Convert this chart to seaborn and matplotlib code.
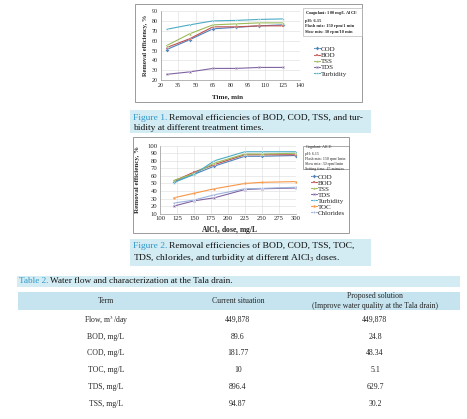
import numpy as np
import pandas as pd
import seaborn as sns
import matplotlib
matplotlib.use("Agg")
import matplotlib.pyplot as plt
from matplotlib.patches import Rectangle

# ---------------- data ----------------
fig1_time = [25, 45, 65, 85, 105, 125]
fig1_cod = [51, 61, 72, 73.5, 75, 76]
fig1_bod = [53, 62, 74, 74, 75, 75]
fig1_tss = [55, 67, 76, 77, 78, 78]
fig1_tds = [26, 28.5, 32, 32, 33, 33]
fig1_turb = [71.5, 76, 80, 80.5, 81.5, 82]

fig2_dose = [120, 150, 180, 225, 250, 300]
fig2_cod = [52, 62, 73, 86, 86, 87]
fig2_bod = [53, 65, 75, 88, 88, 88]
fig2_tss = [54, 63, 77, 89, 89, 90]
fig2_tds = [20, 27, 31, 42, 43, 44]
fig2_turb = [51, 62, 80, 92, 92, 92]
fig2_toc = [31, 37, 43, 50, 51.5, 52.5]
fig2_chl = [24, 28, 35, 43, 43.5, 45]

table_terms = ["Flow, m$^3$/day", "BOD, mg/L", "COD, mg/L", "TOC, mg/L", "TDS, mg/L", "TSS, mg/L"]
table_current = ["449,878", "89.6", "181.77", "10", "896.4", "94.87"]
table_proposed = ["449,878", "24.8", "48.34", "5.1", "629.7", "30.2"]

# ---------------- styling ----------------
sns.set_theme(style="white")
plt.rcParams['font.family'] = ['Liberation Serif', 'DejaVu Serif']
plt.rcParams['mathtext.fontset'] = 'stix'

W, H = 467, 419
fig = plt.figure(figsize=(W / 100, H / 100), dpi=100)
fig.patch.set_facecolor('white')

def fx(px):
    return px / W

def fy(py):
    return 1 - py / H

def rect_axes(l, t, r, b):
    return fig.add_axes([fx(l), fy(b), (r - l) / W, (b - t) / H])

colors = {"COD": "#4F81BD", "BOD": "#C0504D", "TSS": "#9BBB59", "TDS": "#8064A2",
          "Turbidity": "#4BACC6", "TOC": "#F79646", "Chlorides": "#9DB3DC"}
markers = {"COD": "D", "BOD": "s", "TSS": "^", "TDS": "X", "Turbidity": "*",
           "TOC": "o", "Chlorides": "P"}

def frame(l, t, r, b, fc='none', ec='#9a9a9a', lw=0.7, z=0):
    fig.add_artist(Rectangle((fx(l), fy(b)), (r - l) / W, (b - t) / H,
                             transform=fig.transFigure, facecolor=fc,
                             edgecolor=ec, lw=lw, zorder=z))

def style_ax(ax, xt, yt, fs):
    ax.set_xticks(xt)
    ax.set_yticks(yt)
    ax.grid(True, color='#dcdcdc', lw=0.4)
    for s in ax.spines.values():
        s.set_visible(False)
    ax.spines['left'].set_visible(True)
    ax.spines['bottom'].set_visible(True)
    ax.spines['left'].set_color('#999999')
    ax.spines['bottom'].set_color('#999999')
    ax.spines['left'].set_linewidth(0.5)
    ax.spines['bottom'].set_linewidth(0.5)
    ax.tick_params(axis='both', labelsize=fs, length=0, pad=2, colors='#222222')
    ax.set_xlabel("")
    ax.set_ylabel("")
    ax.set_facecolor('white')

# ---------------- Figure 1 ----------------
frame(135, 4, 362, 102)
ax1 = rect_axes(160.7, 11, 300, 80.3)
order1 = ["COD", "BOD", "TSS", "TDS", "Turbidity"]
vals1 = [fig1_cod, fig1_bod, fig1_tss, fig1_tds, fig1_turb]
df1 = pd.DataFrame([(t, v, n) for n, vs in zip(order1, vals1) for t, v in zip(fig1_time, vs)],
                   columns=["x", "y", "series"])
sns.lineplot(data=df1, x="x", y="y", hue="series", style="series", hue_order=order1,
             style_order=order1, palette=colors, markers=markers, dashes=False,
             lw=0.8, markersize=2.0, markeredgewidth=0.2, ax=ax1)
ax1.set_xlim(20, 140)
ax1.set_ylim(20, 90)
style_ax(ax1, np.arange(20, 141, 15), np.arange(20, 91, 10), 4.3)
h, l = ax1.get_legend_handles_labels()
ax1.legend(h, l, loc='upper left', bbox_to_anchor=(fx(314), fy(46)),
           bbox_transform=fig.transFigure, frameon=False, fontsize=5,
           handlelength=0.8, handletextpad=0.2, labelspacing=0.05, borderpad=0,
           borderaxespad=0)
fig.text(fx(145), fy(45), "Removal efficiency, %", rotation=90, ha='center', va='center',
         fontsize=4.6, fontweight='bold')
fig.text(fx(228), fy(96.5), "Time, min", ha='center', va='center', fontsize=5,
         fontweight='bold')
fig.text(fx(305), fy(21.5),
         "Coagulant: 100 mg/L AlCl$_3$\npH: 6.15\nFlash mix: 150 rpm/1 min\nSlow mix: 30 rpm/10 min",
         ha='left', va='center', fontsize=3.2, fontweight='bold', linespacing=1.5)
frame(303, 8, 362, 36, ec='#bbbbbb', lw=0.5)

# ---------------- Figure 2 ----------------
frame(133, 137, 349, 233)
ax2 = rect_axes(160, 145.7, 295.7, 213.7)
order2 = ["COD", "BOD", "TSS", "TDS", "Turbidity", "TOC", "Chlorides"]
vals2 = [fig2_cod, fig2_bod, fig2_tss, fig2_tds, fig2_turb, fig2_toc, fig2_chl]
df2 = pd.DataFrame([(d, v, n) for n, vs in zip(order2, vals2) for d, v in zip(fig2_dose, vs)],
                   columns=["x", "y", "series"])
sns.lineplot(data=df2, x="x", y="y", hue="series", style="series", hue_order=order2,
             style_order=order2, palette=colors, markers=markers, dashes=False,
             lw=0.8, markersize=2.0, markeredgewidth=0.2, ax=ax2)
ax2.set_xlim(100, 300)
ax2.set_ylim(10, 100)
style_ax(ax2, np.arange(100, 301, 25), np.arange(10, 101, 10), 4.8)
h, l = ax2.get_legend_handles_labels()
ax2.legend(h, l, loc='upper left', bbox_to_anchor=(fx(311), fy(174)),
           bbox_transform=fig.transFigure, frameon=False, fontsize=5,
           handlelength=0.8, handletextpad=0.2, labelspacing=0.02, borderpad=0,
           borderaxespad=0)
fig.text(fx(137.5), fy(179), "Removal efficiency, %", rotation=90, ha='center', va='center',
         fontsize=5, fontweight='bold')
fig.text(fx(230), fy(229.5), "AlCl$_\\mathbf{3}$ dose, mg/L", ha='center', va='center',
         fontsize=5.5, fontweight='bold')
fig.text(fx(305), fy(157),
         "Cogulant: AlCl$_3$\npH: 6.15\nFlash mix: 150 rpm/1min\nSlow mix: 30 rpm/1min\nSetting time: 45 minutes",
         ha='left', va='center', fontsize=2.9, linespacing=1.35)
frame(303, 146, 349, 168.5, ec='#888888', lw=0.5)

# ---------------- captions ----------------
renderer = fig.canvas.get_renderer()
blue = '#2E96C8'
band = '#D3ECF4'

def caption(x, y, label, rest, fs):
    t = fig.text(fx(x), fy(y), label, color=blue, fontsize=fs, ha='left', va='center')
    bb = t.get_window_extent(renderer)
    fig.text(bb.x1 / W + 1.5 / W, fy(y), rest, color='#111111', fontsize=fs,
             ha='left', va='center')

frame(130, 110, 371, 133, fc=band, ec='none', z=-1)
caption(133, 117.5, "Figure 1.", "Removal efficiencies of BOD, COD, TSS, and tur-", 6.8)
fig.text(fx(133), fy(127.5), "bidity at different treatment times.", fontsize=6.8,
         color='#111111', ha='left', va='center')

frame(130, 239, 371, 266, fc=band, ec='none', z=-1)
caption(133, 246, "Figure 2.", "Removal efficiencies of BOD, COD, TSS, TOC,", 6.8)
fig.text(fx(133), fy(258.5), "TDS, chlorides, and turbidity at different AlCl$_3$ doses.",
         fontsize=6.8, color='#111111', ha='left', va='center')

# ---------------- table ----------------
frame(17, 275.5, 460, 287, fc=band, ec='none', z=-1)
caption(19, 281.3, "Table 2.", "Water flow and characterization at the Tala drain.", 6.6)

frame(18, 291.7, 460, 310, fc='#C5E4EF', ec='none', z=-1)
col_x = [106, 238, 375]
fs_t = 5.6
fig.text(fx(col_x[0]), fy(301.3), "Term", ha='center', va='center', fontsize=fs_t)
fig.text(fx(col_x[1]), fy(301.3), "Current situation", ha='center', va='center', fontsize=fs_t)
fig.text(fx(col_x[2]), fy(296.2), "Proposed solution", ha='center', va='center', fontsize=fs_t)
fig.text(fx(col_x[2]), fy(306.2), "(Improve water quality at the Tala drain)", ha='center',
         va='center', fontsize=fs_t)
row_y = [320, 336.7, 353.3, 370, 387, 403.7]
for yy, a, b, c in zip(row_y, table_terms, table_current, table_proposed):
    fig.text(fx(col_x[0]), fy(yy), a, ha='center', va='center', fontsize=fs_t)
    fig.text(fx(col_x[1]), fy(yy), b, ha='center', va='center', fontsize=fs_t)
    fig.text(fx(col_x[2]), fy(yy), c, ha='center', va='center', fontsize=fs_t)

fig.savefig("out.png", dpi=100)
